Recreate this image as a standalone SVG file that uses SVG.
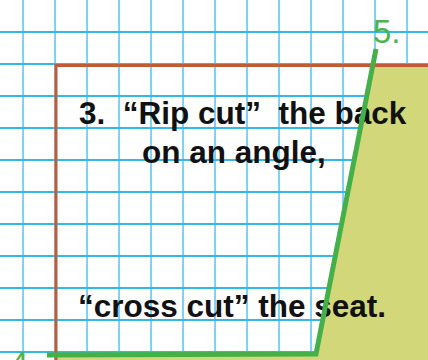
<svg xmlns="http://www.w3.org/2000/svg" width="428" height="360" viewBox="0 0 428 360">
<style>
.v{stroke:#7ed3f4;stroke-width:2}
.h{stroke:#35b6ee;stroke-width:2}
.t{font-family:"Liberation Sans",Arial,sans-serif;font-weight:bold;font-size:31.5px;fill:#111;white-space:pre}
.g{font-family:"Liberation Sans",Arial,sans-serif;font-size:33px;fill:#4cb44c}
</style>
<rect width="428" height="360" fill="#fff"/>
<g id="grid">
<line class="v" x1="23" y1="0" x2="23" y2="360"/>
<line class="v" x1="55" y1="0" x2="55" y2="360"/>
<line class="v" x1="87" y1="0" x2="87" y2="360"/>
<line class="v" x1="119" y1="0" x2="119" y2="360"/>
<line class="v" x1="151" y1="0" x2="151" y2="360"/>
<line class="v" x1="183" y1="0" x2="183" y2="360"/>
<line class="v" x1="215" y1="0" x2="215" y2="360"/>
<line class="v" x1="247" y1="0" x2="247" y2="360"/>
<line class="v" x1="279" y1="0" x2="279" y2="360"/>
<line class="v" x1="311" y1="0" x2="311" y2="360"/>
<line class="v" x1="343" y1="0" x2="343" y2="360"/>
<line class="v" x1="375" y1="0" x2="375" y2="360"/>
<line class="v" x1="407" y1="0" x2="407" y2="360"/>
<line class="h" x1="0" y1="32" x2="428" y2="32"/>
<line class="h" x1="0" y1="64" x2="428" y2="64"/>
<line class="h" x1="0" y1="96" x2="428" y2="96"/>
<line class="h" x1="0" y1="128" x2="428" y2="128"/>
<line class="h" x1="0" y1="160" x2="428" y2="160"/>
<line class="h" x1="0" y1="192" x2="428" y2="192"/>
<line class="h" x1="0" y1="224" x2="428" y2="224"/>
<line class="h" x1="0" y1="256" x2="428" y2="256"/>
<line class="h" x1="0" y1="288" x2="428" y2="288"/>
<line class="h" x1="0" y1="320" x2="428" y2="320"/>
<line class="h" x1="0" y1="352" x2="428" y2="352"/>
</g>
<g id="seat-back-fill">
<polygon points="373,65 428,65 428,360 56,360 56,355 316,355" fill="#d2d87a"/>
</g>
<g id="board-outline">
<polyline points="56,360 56,65.5 428,65.5" fill="none" stroke="#c05a38" stroke-width="3"/>
</g>
<g id="labels">
<text class="t" x="79" y="124" xml:space="preserve">3.  “Rip cut”  the back</text>
<text class="t" x="142" y="163">on an angle,</text>
<text class="t" x="78" y="317">“cross cut” the seat.</text>
</g>
<g id="connectors">
<polyline points="47,355 316,354 376,49" fill="none" stroke="#45b04a" stroke-width="5"/>
</g>
<g id="markers">
<text class="g" x="373" y="43">5.</text>
<text class="g" x="10" y="375">4</text>
</g>
</svg>
